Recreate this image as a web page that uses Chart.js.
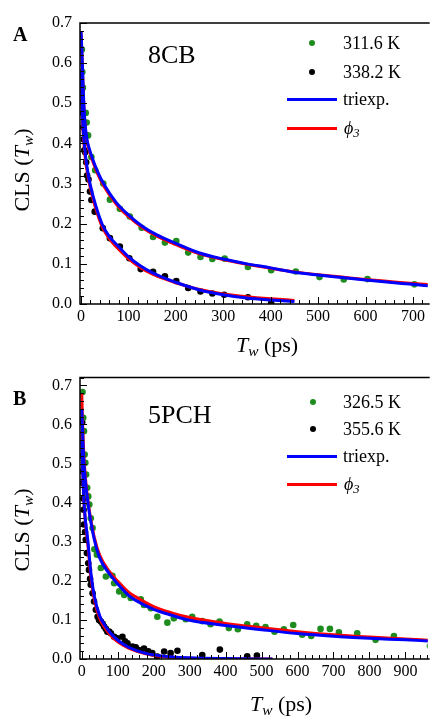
<!DOCTYPE html>
<html lang="en">
<head>
<meta charset="UTF-8">
<title>CLS decays, 8CB and 5PCH</title>
<script src="https://cdn.jsdelivr.net/npm/chart.js"></script>
<style>
body { margin: 0; background: #fff; }
#wrap {
    position: relative;
    width: 431px;
    height: 719px;
    overflow: hidden;
    font-family: "Liberation Serif", "Times New Roman", serif;
    color: #000;
}
canvas { position: absolute; left: 0; }
.t { position: absolute; line-height: 1; white-space: nowrap; }
.panel { font-weight: bold; font-size: 20px; }
.name { font-size: 26px; }
.leg { font-size: 18px; }
.ytitle { font-size: 22px; transform: translate(-50%, -50%) rotate(-90deg); }
.xtitle { font-size: 22px; transform: translateX(-50%); }
sub { font-size: 0.7em; vertical-align: -0.25em; line-height: 0; }
.dot { position: absolute; width: 6px; height: 6px; border-radius: 50%; }
.ln { position: absolute; width: 50px; height: 3px; }
</style>
</head>
<body>
<div id="wrap">
    <canvas id="chartA" width="431" height="360" style="top:0"></canvas>
    <canvas id="chartB" width="431" height="359" style="top:360px"></canvas>

    <!-- panel A labels -->
    <div class="t panel" style="left:13px; top:24px">A</div>
    <div class="t name" style="left:148px; top:42px">8CB</div>
    <div class="dot" style="left:309px; top:40px; background:#1e8c1e"></div>
    <div class="t leg" style="left:343px; top:34px">311.6 K</div>
    <div class="dot" style="left:309px; top:69px; background:#000"></div>
    <div class="t leg" style="left:343px; top:63px">338.2 K</div>
    <div class="ln" style="left:287px; top:98px; background:#0000ff"></div>
    <div class="t leg" style="left:343px; top:90px">triexp.</div>
    <div class="ln" style="left:287px; top:127px; background:#ff0000"></div>
    <div class="t leg" style="left:344px; top:119px"><i>&#981;</i><sub><i>3</i></sub></div>
    <div class="t ytitle" style="left:22px; top:170px">CLS (<i>T<sub>w</sub></i>)</div>
    <div class="t xtitle" style="left:267px; top:334px"><i>T<sub>w</sub></i> (ps)</div>

    <!-- panel B labels -->
    <div class="t panel" style="left:13px; top:388px">B</div>
    <div class="t name" style="left:148px; top:402px">5PCH</div>
    <div class="dot" style="left:310px; top:399px; background:#1e8c1e"></div>
    <div class="t leg" style="left:343px; top:393px">326.5 K</div>
    <div class="dot" style="left:310px; top:426px; background:#000"></div>
    <div class="t leg" style="left:343px; top:420px">355.6 K</div>
    <div class="ln" style="left:287px; top:455px; background:#0000ff"></div>
    <div class="t leg" style="left:343px; top:447px">triexp.</div>
    <div class="ln" style="left:287px; top:483px; background:#ff0000"></div>
    <div class="t leg" style="left:344px; top:475px"><i>&#981;</i><sub><i>3</i></sub></div>
    <div class="t ytitle" style="left:22px; top:530px">CLS (<i>T<sub>w</sub></i>)</div>
    <div class="t xtitle" style="left:281px; top:693px"><i>T<sub>w</sub></i> (ps)</div>
</div>

<script>
// ---- Panel A: 8CB ----
var aXTicks = [0, 100, 200, 300, 400, 500, 600, 700];
var aYTicks = [0, 0.1, 0.2, 0.3, 0.4, 0.5, 0.6, 0.7];

// 311.6 K data
var aGreenT = [2, 3, 4, 10, 12, 15, 22, 30, 47, 61, 82, 103, 128, 152, 177, 201, 226, 252, 277, 303, 352, 401, 453, 503, 554, 604, 703];
var aGreenCLS = [0.634, 0.578, 0.539, 0.476, 0.452, 0.42, 0.366, 0.333, 0.30, 0.26, 0.237, 0.218, 0.19, 0.167, 0.153, 0.157, 0.128, 0.117, 0.112, 0.113, 0.092, 0.084, 0.081, 0.067, 0.061, 0.062, 0.049];

// 338.2 K data
var aBlackT = [2, 4, 5, 6, 7, 9, 11, 13, 16, 19, 22, 29, 46, 61, 82, 102, 126, 152, 177, 201, 226, 252, 277, 302, 352, 401];
var aBlackCLS = [0.504, 0.476, 0.44, 0.41, 0.383, 0.378, 0.353, 0.32, 0.31, 0.28, 0.259, 0.23, 0.189, 0.164, 0.143, 0.114, 0.087, 0.080, 0.069, 0.057, 0.040, 0.031, 0.026, 0.023, 0.017, 0.002];

// fits, 311.6 K
var aUpT = [0, 1, 3, 5, 8, 12, 18, 25, 35, 50, 75, 100, 130, 160, 200, 250, 300, 350, 400, 450, 500, 550, 600, 650, 700, 735];
var aUpTri = [0.68, 0.66, 0.60, 0.53, 0.46, 0.415, 0.385, 0.36, 0.33, 0.295, 0.252, 0.222, 0.193, 0.172, 0.151, 0.127, 0.112, 0.10, 0.09, 0.079, 0.072, 0.066, 0.060, 0.054, 0.049, 0.045];
var aUpPhi = [0.68, 0.65, 0.59, 0.52, 0.455, 0.41, 0.38, 0.355, 0.325, 0.29, 0.248, 0.218, 0.19, 0.169, 0.148, 0.125, 0.111, 0.099, 0.089, 0.08, 0.073, 0.067, 0.061, 0.056, 0.051, 0.048];

// fits, 338.2 K
var aLowT = [0, 2, 4, 7, 10, 15, 20, 30, 45, 60, 80, 100, 125, 150, 175, 200, 250, 300, 350, 400, 450];
var aLowTri = [0.58, 0.52, 0.45, 0.40, 0.365, 0.325, 0.295, 0.25, 0.198, 0.168, 0.142, 0.118, 0.095, 0.078, 0.065, 0.054, 0.035, 0.023, 0.015, 0.010, 0.006];
var aLowPhi = [0.57, 0.50, 0.44, 0.39, 0.355, 0.318, 0.288, 0.243, 0.192, 0.162, 0.136, 0.113, 0.091, 0.075, 0.063, 0.053, 0.036, 0.025, 0.018, 0.013, 0.009];

// ---- Panel B: 5PCH ----
var bXTicks = [0, 100, 200, 300, 400, 500, 600, 700, 800, 900];
var bYTicks = [0, 0.1, 0.2, 0.3, 0.4, 0.5, 0.6, 0.7];

// 326.5 K data
var bGreenT = [2, 4, 6, 8, 10, 12, 15, 18, 21, 25, 30, 35, 42, 53, 67, 85, 90, 104, 118, 136, 164, 173, 192, 210, 238, 256, 289, 307, 335, 358, 383, 409, 434, 460, 485, 511, 536, 562, 588, 613, 638, 664, 690, 715, 766, 817, 868, 968];
var bGreenCLS = [0.683, 0.617, 0.583, 0.523, 0.502, 0.472, 0.438, 0.416, 0.395, 0.36, 0.335, 0.281, 0.267, 0.233, 0.211, 0.213, 0.194, 0.173, 0.164, 0.156, 0.153, 0.138, 0.13, 0.108, 0.093, 0.104, 0.102, 0.108, 0.097, 0.089, 0.096, 0.079, 0.076, 0.089, 0.085, 0.082, 0.070, 0.076, 0.087, 0.062, 0.059, 0.077, 0.077, 0.068, 0.066, 0.049, 0.059, 0.033];

// 355.6 K data
var bBlackT = [1, 2, 3, 3, 4, 5, 6, 9, 11, 14, 18, 20, 23, 25, 30, 34, 39, 44, 48, 53, 58, 62, 67, 71, 76, 81, 90, 99, 113, 120, 127, 141, 150, 159, 173, 185, 196, 210, 229, 247, 266, 335, 384, 460, 487];
var bBlackCLS = [0.606, 0.52, 0.48, 0.45, 0.41, 0.382, 0.344, 0.325, 0.305, 0.271, 0.245, 0.228, 0.205, 0.19, 0.168, 0.147, 0.126, 0.108, 0.10, 0.096, 0.09, 0.083, 0.077, 0.07, 0.07, 0.066, 0.057, 0.053, 0.057, 0.045, 0.04, 0.032, 0.03, 0.023, 0.027, 0.02, 0.015, 0.006, 0.019, 0.015, 0.021, 0.010, 0.024, 0.007, 0.009];

// fits, 326.5 K
var bUpT = [0, 1, 3, 6, 10, 15, 20, 25, 35, 50, 75, 100, 130, 150, 200, 250, 300, 400, 500, 600, 700, 800, 900, 965];
var bUpTri = [0.64, 0.61, 0.56, 0.50, 0.455, 0.415, 0.38, 0.352, 0.305, 0.258, 0.22, 0.192, 0.163, 0.15, 0.127, 0.112, 0.099, 0.086, 0.075, 0.065, 0.058, 0.053, 0.049, 0.046];
var bUpPhi = [0.68, 0.64, 0.58, 0.515, 0.465, 0.42, 0.385, 0.357, 0.31, 0.265, 0.226, 0.199, 0.171, 0.159, 0.134, 0.118, 0.106, 0.091, 0.08, 0.07, 0.062, 0.056, 0.051, 0.048];

// fits, 355.6 K
var bLowT = [0, 2, 5, 10, 16, 25, 35, 50, 65, 80, 100, 130, 175, 220, 300, 400, 530];
var bLowTri = [0.56, 0.50, 0.42, 0.355, 0.31, 0.222, 0.16, 0.11, 0.085, 0.066, 0.048, 0.03, 0.015, 0.008, 0.003, 0.001, 0.0];
var bLowPhi = [0.58, 0.51, 0.42, 0.35, 0.30, 0.212, 0.152, 0.103, 0.079, 0.061, 0.044, 0.028, 0.014, 0.007, 0.002, 0.0, 0.0];

var GREEN = '#1e8c1e';
var BLUE = '#0000ff';
var RED = '#ff0000';

function pts(xs, ys) {
    return xs.map(function (x, i) { return { x: x, y: ys[i] }; });
}

function dots(xs, ys, color, order) {
    return {
        data: pts(xs, ys),
        showLine: false,
        pointRadius: 3.3,
        pointHoverRadius: 3.3,
        pointBorderWidth: 0,
        backgroundColor: color,
        borderColor: color,
        order: order
    };
}

function curve(xs, ys, color, order) {
    return {
        data: pts(xs, ys),
        showLine: true,
        pointRadius: 0,
        borderColor: color,
        borderWidth: 3,
        cubicInterpolationMode: 'monotone',
        fill: false,
        order: order
    };
}

// frame (top, left, bottom) and inward ticks with minor ticks
var frameTicks = {
    id: 'frameTicks',
    afterDraw: function (chart) {
        var ctx = chart.ctx, a = chart.chartArea;
        var x = chart.scales.x, y = chart.scales.y;
        ctx.save();
        ctx.strokeStyle = '#000';
        ctx.lineWidth = 1;
        ctx.beginPath();
        for (var i = 0; i * 20 <= x.max; i++) {
            var px = Math.round(x.getPixelForValue(i * 20)) + 0.5;
            var len = (i % 5 === 0) ? 7 : 4;
            ctx.moveTo(px, a.bottom);
            ctx.lineTo(px, a.bottom - len);
        }
        for (var j = 0; j * 0.02 <= y.max + 1e-9; j++) {
            var py = Math.round(y.getPixelForValue(j * 0.02)) + 0.5;
            var l2 = (j % 5 === 0) ? 7 : 4;
            ctx.moveTo(a.left, py);
            ctx.lineTo(a.left + l2, py);
        }
        ctx.stroke();
        ctx.lineWidth = 1.5;
        ctx.beginPath();
        ctx.moveTo(a.right + 2, a.top);
        ctx.lineTo(a.left, a.top);
        ctx.lineTo(a.left, a.bottom);
        ctx.lineTo(a.right + 2, a.bottom);
        ctx.stroke();
        ctx.restore();
    }
};

function makeChart(id, o) {
    var tickFont = { family: 'Liberation Serif', size: 16 };
    return new Chart(document.getElementById(id), {
        type: 'scatter',
        data: { datasets: o.datasets },
        options: {
            responsive: false,
            animation: false,
            events: [],
            layout: { padding: { top: o.padTop, left: 0, right: 0, bottom: 0 } },
            plugins: { legend: { display: false }, tooltip: { enabled: false } },
            scales: {
                x: {
                    type: 'linear',
                    min: o.xMin,
                    max: o.xMax,
                    grid: { display: false, drawTicks: false },
                    border: { display: false },
                    afterBuildTicks: function (s) { s.ticks = o.xTicks.map(function (v) { return { value: v }; }); },
                    afterFit: function (s) { s.height = o.xAxisH; },
                    ticks: { font: tickFont, color: '#000', padding: 3, maxRotation: 0, autoSkip: false }
                },
                y: {
                    type: 'linear',
                    min: 0,
                    max: o.yMax,
                    grid: { display: false, drawTicks: false },
                    border: { display: false },
                    afterBuildTicks: function (s) { s.ticks = o.yTicks.map(function (v) { return { value: v }; }); },
                    afterFit: function (s) { s.width = 80; },
                    ticks: {
                        font: tickFont, color: '#000', padding: 8, autoSkip: false,
                        callback: function (v) { return v.toFixed(1); }
                    }
                }
            }
        },
        plugins: [frameTicks]
    });
}

makeChart('chartA', {
    padTop: 23, xAxisH: 56, xMin: -2, xMax: 731, yMax: 0.7,
    xTicks: aXTicks, yTicks: aYTicks,
    datasets: [
        curve(aUpT, aUpTri, BLUE, 0),
        curve(aLowT, aLowTri, BLUE, 0),
        curve(aUpT, aUpPhi, RED, 1),
        curve(aLowT, aLowPhi, RED, 1),
        dots(aGreenT, aGreenCLS, GREEN, 2),
        dots(aBlackT, aBlackCLS, '#000', 2)
    ]
});

makeChart('chartB', {
    padTop: 17, xAxisH: 60, xMin: -5, xMax: 962, yMax: 0.72,
    xTicks: bXTicks, yTicks: bYTicks,
    datasets: [
        curve(bUpT, bUpTri, BLUE, 0),
        curve(bLowT, bLowTri, BLUE, 0),
        curve(bUpT, bUpPhi, RED, 1),
        curve(bLowT, bLowPhi, RED, 1),
        dots(bGreenT, bGreenCLS, GREEN, 2),
        dots(bBlackT, bBlackCLS, '#000', 2)
    ]
});
</script>
</body>
</html>
